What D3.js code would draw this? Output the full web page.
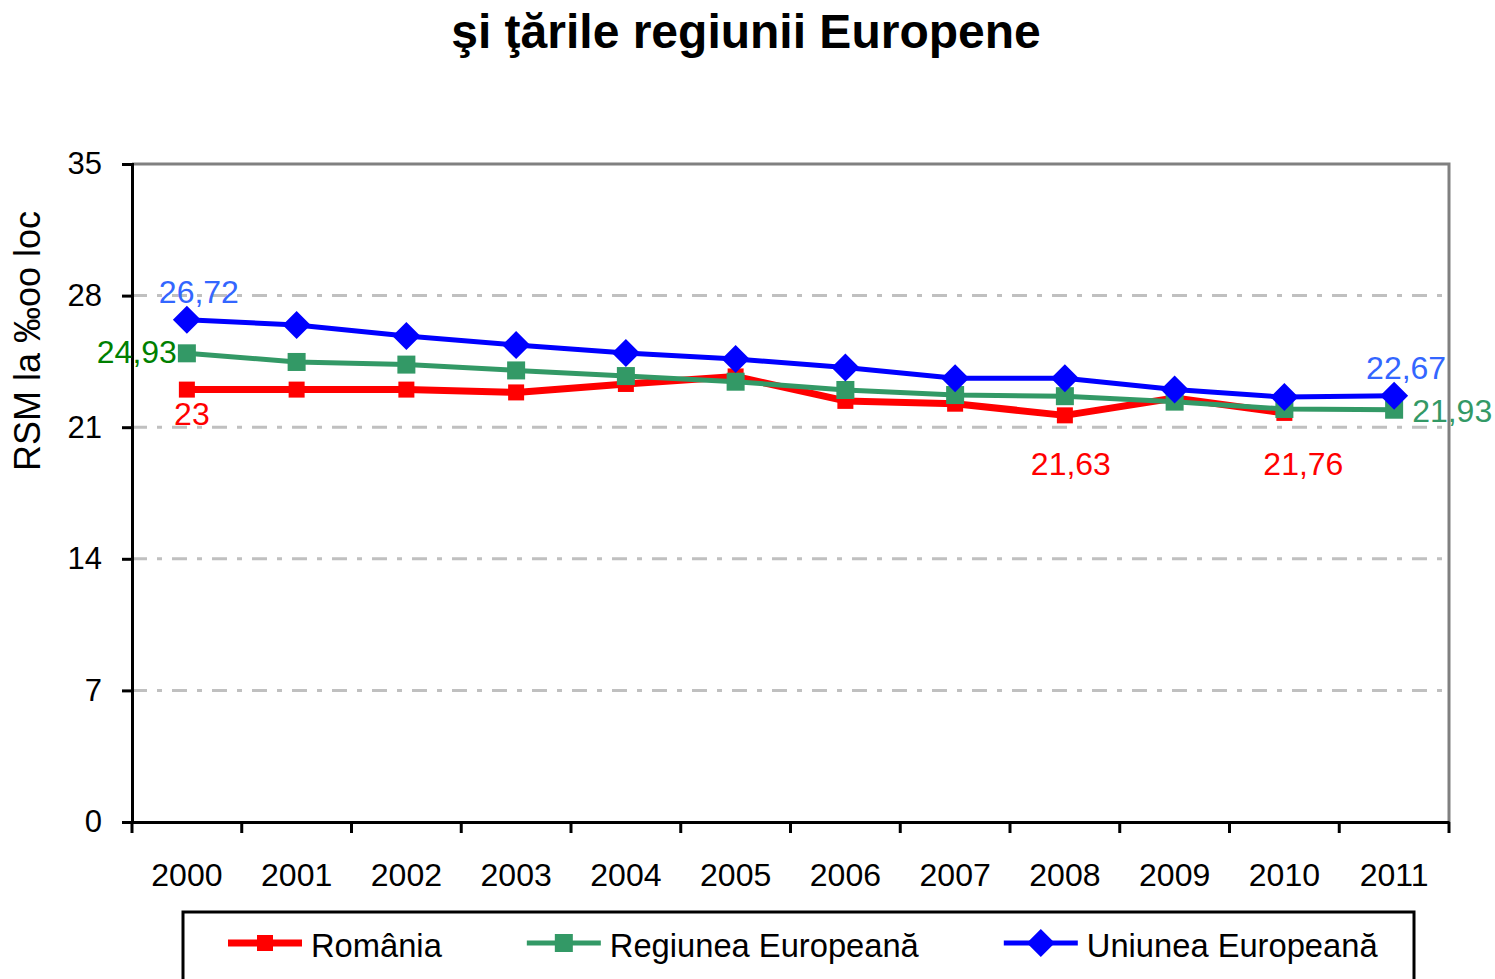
<!DOCTYPE html>
<html>
<head>
<meta charset="utf-8">
<script src="https://cdn.jsdelivr.net/npm/d3@7"></script>
<style>
  body { margin: 0; background: #fff; }
  text { font-family: "Liberation Sans", Arial, sans-serif; }
</style>
</head>
<body>
<script>
const width = 1495, height = 979;
const title = 'şi ţările regiunii Europene';
const yAxisLabel = 'RSM la ‰oo loc';

const years = ['2000', '2001', '2002', '2003', '2004', '2005', '2006', '2007', '2008', '2009', '2010', '2011'];
const romania = [23, 23, 23, 22.85, 23.3, 23.7, 22.4, 22.25, 21.63, 22.55, 21.76, null];
const regiunea = [24.93, 24.47, 24.33, 24.02, 23.72, 23.42, 22.98, 22.71, 22.65, 22.36, 21.97, 21.93];
const uniunea = [26.72, 26.44, 25.85, 25.37, 24.95, 24.63, 24.18, 23.6, 23.6, 23.0, 22.6, 22.67];
const yTicks = [0, 7, 14, 21, 28, 35];

const series = [
  { name: 'România', values: romania, color: '#ff0000', width: 7, marker: 'square', size: 16 },
  { name: 'Regiunea Europeană', values: regiunea, color: '#339966', width: 5, marker: 'square', size: 18 },
  { name: 'Uniunea Europeană', values: uniunea, color: '#0000ff', width: 5, marker: 'diamond', size: 14 }
];

// which points get a value label
const labels = [
  { s: 2, i: 0, pos: 'above', color: '#3366ff' },
  { s: 1, i: 0, pos: 'left', color: '#008000' },
  { s: 0, i: 0, pos: 'below', color: '#ff0000' },
  { s: 0, i: 8, pos: 'under', color: '#ff0000' },
  { s: 0, i: 10, pos: 'under2', color: '#ff0000' },
  { s: 2, i: 11, pos: 'above', color: '#3366ff' },
  { s: 1, i: 11, pos: 'right', color: '#339966' }
];
const offsets = {
  above: [12, -17, 'middle'],
  left: [-10, 10, 'end'],
  right: [18, 12, 'start'],
  below: [5, 35, 'middle'],
  under: [6, 60, 'middle'],
  under2: [19, 62, 'middle']
};

const plot = { left: 132, right: 1449, top: 164, bottom: 822 };

const svg = d3.select('body')
  .append('svg')
  .attr('width', width)
  .attr('height', height);

const xScale = d3.scaleBand()
  .domain(years)
  .range([plot.left, plot.right]);
const xc = d => xScale(d) + xScale.bandwidth() / 2;

const yScale = d3.scaleLinear()
  .domain([0, 35])
  .range([plot.bottom, plot.top]);

// title
svg.append('text')
  .attr('x', 746)
  .attr('y', 48)
  .attr('text-anchor', 'middle')
  .style('font-size', '48px')
  .style('font-weight', 'bold')
  .text(title);

// gridlines
svg.append('g')
  .selectAll('line')
  .data(yTicks.filter(t => t > 0 && t < 35))
  .enter()
  .append('line')
  .attr('x1', plot.left)
  .attr('x2', plot.right)
  .attr('y1', d => yScale(d))
  .attr('y2', d => yScale(d))
  .attr('stroke', '#c0c0c0')
  .attr('stroke-width', 3)
  .attr('stroke-dasharray', '15,10,5,10');

// top and right frame
svg.append('path')
  .attr('d', `M${plot.left},${plot.top}H${plot.right}V${plot.bottom}`)
  .attr('fill', 'none')
  .attr('stroke', '#808080')
  .attr('stroke-width', 3);

// y axis
const yAxis = svg.append('g')
  .attr('transform', `translate(${plot.left},0)`)
  .call(d3.axisLeft(yScale).tickValues(yTicks).tickSize(10).tickPadding(20).tickFormat(d3.format('d')));
yAxis.select('.domain').attr('stroke', '#000').attr('stroke-width', 3);
yAxis.selectAll('.tick line').attr('stroke', '#000').attr('stroke-width', 3);
yAxis.selectAll('.tick text')
  .style('font-size', '31px')
  .style('font-family', '"Liberation Sans", Arial, sans-serif')
  .attr('fill', '#000');

// x axis
const xAxis = svg.append('g')
  .attr('transform', `translate(0,${plot.bottom})`)
  .call(d3.axisBottom(xScale).tickSize(0).tickPadding(41));
xAxis.select('.domain').attr('stroke', '#000').attr('stroke-width', 3);
xAxis.selectAll('.tick text')
  .style('font-size', '32px')
  .style('font-family', '"Liberation Sans", Arial, sans-serif')
  .attr('fill', '#000');
xAxis.selectAll('.sep')
  .data(years.map(d => xScale(d)).concat([xScale.range()[1]]))
  .enter()
  .append('line')
  .attr('x1', d => d)
  .attr('x2', d => d)
  .attr('y1', 0)
  .attr('y2', 11)
  .attr('stroke', '#000')
  .attr('stroke-width', 3);

// y axis title
svg.append('text')
  .attr('transform', 'translate(40,341) rotate(-90)')
  .attr('text-anchor', 'middle')
  .style('font-size', '36px')
  .text(yAxisLabel);

// lines and markers
const line = d3.line()
  .defined(d => d.v != null)
  .x(d => xc(d.year))
  .y(d => yScale(d.v));

const drawMarker = (g, s, x, y) => {
  if (s.marker === 'diamond') {
    const r = s.size;
    g.append('path')
      .attr('d', `M${x},${y - r}L${x + r},${y}L${x},${y + r}L${x - r},${y}Z`)
      .attr('fill', s.color);
  } else {
    g.append('rect')
      .attr('x', x - s.size / 2)
      .attr('y', y - s.size / 2)
      .attr('width', s.size)
      .attr('height', s.size)
      .attr('fill', s.color);
  }
};

series.forEach(s => {
  const pts = years.map((year, i) => ({ year, v: s.values[i] }));
  const g = svg.append('g');
  g.append('path')
    .attr('d', line(pts))
    .attr('fill', 'none')
    .attr('stroke', s.color)
    .attr('stroke-width', s.width)
    .attr('stroke-linejoin', 'round');
  pts.filter(p => p.v != null).forEach(p => drawMarker(g, s, xc(p.year), yScale(p.v)));
});

// data labels
labels.forEach(l => {
  const v = series[l.s].values[l.i];
  const o = offsets[l.pos];
  svg.append('text')
    .attr('x', xc(years[l.i]) + o[0])
    .attr('y', yScale(v) + o[1])
    .attr('text-anchor', o[2])
    .attr('fill', l.color)
    .style('font-size', '32px')
    .text(String(v).replace('.', ','));
});

// legend
const legend = svg.append('g');
legend.append('rect')
  .attr('x', 183)
  .attr('y', 912)
  .attr('width', 1231)
  .attr('height', 100)
  .attr('fill', '#fff')
  .attr('stroke', '#000')
  .attr('stroke-width', 3);

let lx = 228;
series.forEach(s => {
  const ly = 943;
  legend.append('line')
    .attr('x1', lx)
    .attr('x2', lx + 74)
    .attr('y1', ly)
    .attr('y2', ly)
    .attr('stroke', s.color)
    .attr('stroke-width', s.width);
  drawMarker(legend, s, lx + 37, ly);
  const t = legend.append('text')
    .attr('x', lx + 83)
    .attr('y', 957)
    .style('font-size', '32.7px')
    .text(s.name);
  lx += 83 + t.node().getComputedTextLength() + 85;
});
</script>
</body>
</html>
